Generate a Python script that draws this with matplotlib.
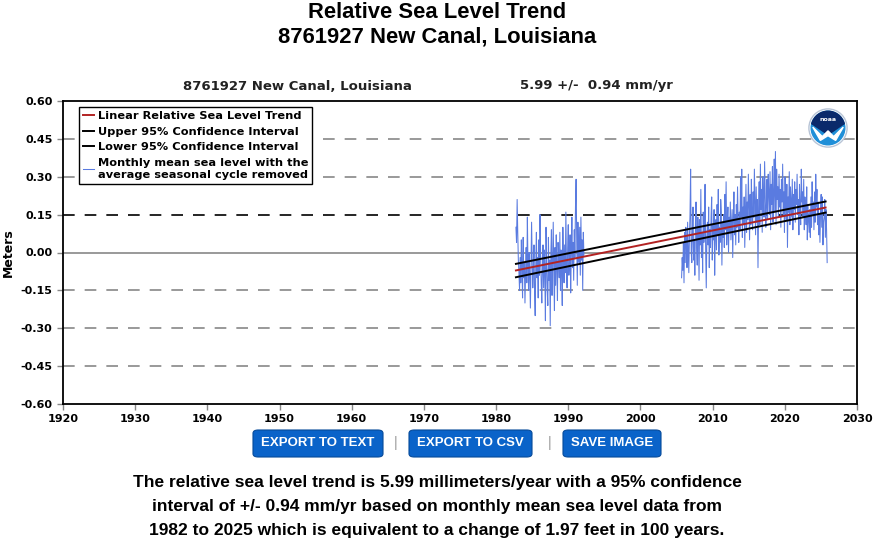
import numpy as np
import matplotlib
matplotlib.use('Agg')
from matplotlib import pyplot as plt
from matplotlib.patches import FancyBboxPatch, Circle, Wedge

# monthly mean sea level (cm, seasonal cycle removed)
start_1 = 1982.75
msl_1 = [10, 4, 21, 8, -3, -8, -15, -2, -12, 5, -6, -18,
         6, -10, -4, -20, -8, 2, -12, 14, -5, -15, 0, -9,
         -22, -6, 12, -3, -14, -7, 3, -16, -25, -4, 8, -10,
         -2, -18, 5, -9, 15, -1, -12, -20, -6, 3, -14, 1,
         -8, -27, 10, -5, -15, -21, 6, -11, -3, -29, -1, 9,
         -17, -4, 12, -9, -23, 2, -13, 7, -6, -19, 4, -2,
         -10, 8, -15, 1, -7, -21, 10, -4, -12, 3, -8, 16,
         -5, -14, 2, 11, -9, -3, 7, -16, 0, 14, -6, 4,
         -11, 9, -2, 18, 29, 6, -13, 12, 1, -4, 10, -9,
         14, -3, 5, -15, 8, -1]
start_2 = 2005.7
msl_2 = [-10, -2, -7, 4, -12, 8, -4, 10, 3,
         -6, 12, 2, -8, 6, 15, 33, 0, -4, 9, 18, -3,
         5, -9, 11, 20, 2, -5, 14, 7, -11, 13, 3, 25,
         -2, 8, -8, 16, 4, 10, 27, 1, -14, 6, 12, 3,
         18, -6, 9, 2, 14, 22, -3, 11, 5, 17, -9, 8,
         13, 1, 19, 7, 25, -1, 10, 4, 21, 16, -5, 12,
         6, 15, 2, 23, 9, 28, 3, 12, 18, 0, 14, 8,
         20, 5, 11, 17, -2, 13, 24, 7, 15, 3, 19, 10,
         26, 12, 4, 16, 9, 30, 14, 33, 6, 18, 11, 22,
         2, 15, 27, 8, 20, 13, 31, 17, 5, 23, 11, 29,
         16, 9, 24, 14, 33, 19, 7, 26, 12, 21, -6, 18,
         28, 11, 35, 17, 25, 8, 30, 20, 14, 36, 22, 10,
         18, 29, 13, 31, 24, 15, 32, 9, 27, 19, 34, 12,
         23, 37, 16, 40, 11, 33, 21, 26, 14, 31, 18, 25,
         10, 29, 20, 35, 15, 24, 8, 30, 19, 13, 27, 2,
         22, 16, 32, 11, 26, 20, 14, 29, 9, 23, 17, 28,
         12, 25, 19, 31, 15, 21, 7, 27, 18, 11, 33, 20,
         24, 14, 29, 9, 22, 17, 11, 26, 5, 19, 13, 8,
         17, 6, 22, 10, 28, 15, 20, 9, 24, 12, 31, 18,
         25, 11, 20, 7, 15, 4, 16, 23, 10, 22, 3, 12,
         14, 21, 6, 17, 9, -4]

# trend and 95% confidence lines (m), endpoints
trend_years = [1982.75, 2025.65]
trend = [-0.071, 0.178]
upper = [-0.045, 0.202]
lower = [-0.098, 0.158]

grid_levels = [-0.45, -0.30, -0.15, 0.30, 0.45]
yticks = [-0.60, -0.45, -0.30, -0.15, 0.00, 0.15, 0.30, 0.45, 0.60]
xticks = list(range(1920, 2031, 10))

buttons = ['EXPORT TO TEXT', 'EXPORT TO CSV', 'SAVE IMAGE']
summary = ['The relative sea level trend is 5.99 millimeters/year with a 95% confidence',
           'interval of +/- 0.94 mm/yr based on monthly mean sea level data from',
           '1982 to 2025 which is equivalent to a change of 1.97 feet in 100 years.']

W, H = 874, 545
fig = plt.figure(figsize=(W / 100, H / 100), dpi=100)
fig.patch.set_facecolor('white')

def fx(px):
    return px / W

def fy(py):
    return 1 - py / H

ax = fig.add_axes([fx(63), fy(404), fx(857) - fx(63), fy(101) - fy(404)])

t1 = start_1 + np.arange(len(msl_1)) / 12
t2 = start_2 + np.arange(len(msl_2)) / 12
blue = '#5a7be0'
l_msl, = ax.plot(t1, np.array(msl_1) / 100, color=blue, lw=0.75, zorder=3,
                 label='Monthly mean sea level with the\naverage seasonal cycle removed')
ax.plot(t2, np.array(msl_2) / 100, color=blue, lw=0.75, zorder=3)

l_tr, = ax.plot(trend_years, trend, color='#b22222', lw=1.4, zorder=5,
                label='Linear Relative Sea Level Trend')
l_up, = ax.plot(trend_years, upper, color='black', lw=1.4, zorder=4,
                label='Upper 95% Confidence Interval')
l_lo, = ax.plot(trend_years, lower, color='black', lw=1.4, zorder=4,
                label='Lower 95% Confidence Interval')

for g in grid_levels:
    ax.axhline(g, color='#888888', lw=1.2, ls=(0, (7, 6)), zorder=1)
ax.axhline(0.15, color='black', lw=1.2, ls=(0, (7, 6)), zorder=1)
ax.axhline(0.0, color='#888888', lw=1.2, zorder=1)

ax.set_xlim(1920, 2030)
ax.set_ylim(-0.60, 0.60)
ax.set_xticks(xticks)
ax.set_yticks(yticks)
ax.set_yticklabels(['%.2f' % v for v in yticks])
ax.tick_params(labelsize=8, colors='#888888', labelcolor='black', length=4, width=1)
for lab in ax.get_xticklabels() + ax.get_yticklabels():
    lab.set_fontweight('bold')
for s in ax.spines.values():
    s.set_linewidth(1.3)
ax.set_ylabel('Meters', fontsize=9, fontweight='bold', labelpad=4)

leg = ax.legend(handles=[l_tr, l_up, l_lo, l_msl],
                loc='upper left', bbox_to_anchor=(0.020, 0.980), borderaxespad=0,
                fancybox=False, edgecolor='black', framealpha=1,
                handlelength=1.0, handletextpad=0.3, borderpad=0.35,
                labelspacing=0.5, prop={'weight': 'bold', 'size': 8.2})
leg.get_frame().set_linewidth(1.0)
leg.set_zorder(10)

# NOAA logo
lx, ly = 828, 128
logo = fig.add_axes([fx(lx - 21), fy(ly + 21), fx(42), 42 / H])
logo.set_xlim(-1.1, 1.1)
logo.set_ylim(-1.1, 1.1)
logo.set_aspect('equal')
logo.axis('off')
logo.add_patch(Circle((0, 0), 1.0, facecolor='white', edgecolor='#b8c4d6', lw=1))
logo.add_patch(Circle((0, 0), 0.88, color='#1f8fd8'))
logo.add_patch(Wedge((0, 0), 0.88, 15, 165, color='#0b2a6b'))
logo.fill([-0.85, 0, 0.85], [0.23, -0.35, 0.23], color='#0b2a6b')
logo.fill([-0.8, -0.3, 0.0, 0.3, 0.8, 0.4, 0.0, -0.4],
          [0.05, -0.45, -0.15, -0.45, 0.05, -0.65, -0.4, -0.65], color='white')
logo.text(0, 0.45, 'noaa', color='white', fontsize=4.5, fontweight='bold',
          ha='center', va='center')

# titles
fig.text(0.5, fy(12), 'Relative Sea Level Trend', ha='center', va='center',
         fontsize=15.8, fontweight='bold', family='Liberation Sans')
fig.text(0.5, fy(37), '8761927 New Canal, Louisiana', ha='center', va='center',
         fontsize=15.8, fontweight='bold', family='Liberation Sans')
fig.text(fx(297), fy(86), '8761927 New Canal, Louisiana', ha='center', va='center',
         fontsize=9.5, fontweight='bold', color='#222222')
fig.text(fx(596), fy(86), '5.99 +/-  0.94 mm/yr', ha='center', va='center',
         fontsize=9.5, fontweight='bold', color='#222222')

# buttons
btn_x = [(253, 383), (409, 532), (563, 661)]
for (x0, x1), name in zip(btn_x, buttons):
    b = FancyBboxPatch((fx(x0), fy(457)), fx(x1 - x0), 27 / H,
                       boxstyle='round,pad=0,rounding_size=0.006',
                       transform=fig.transFigure, facecolor='#0a63c9',
                       edgecolor='#064a9a', lw=0.8)
    fig.patches.append(b)
    fig.text(fx((x0 + x1) / 2), fy(443.5), name, ha='center', va='center',
             color='white', fontsize=9.5, fontweight='bold', family='Liberation Sans')
for sx in [396, 550]:
    fig.text(fx(sx), fy(443), '|', ha='center', va='center', color='#999999',
             fontsize=10, family='Liberation Sans')

for i, line in enumerate(summary):
    fig.text(0.5, fy(482 + 24.5 * i), line, ha='center', va='center',
             fontsize=12.5, fontweight='bold', family='Liberation Sans')

fig.savefig('out.png', dpi=100)
